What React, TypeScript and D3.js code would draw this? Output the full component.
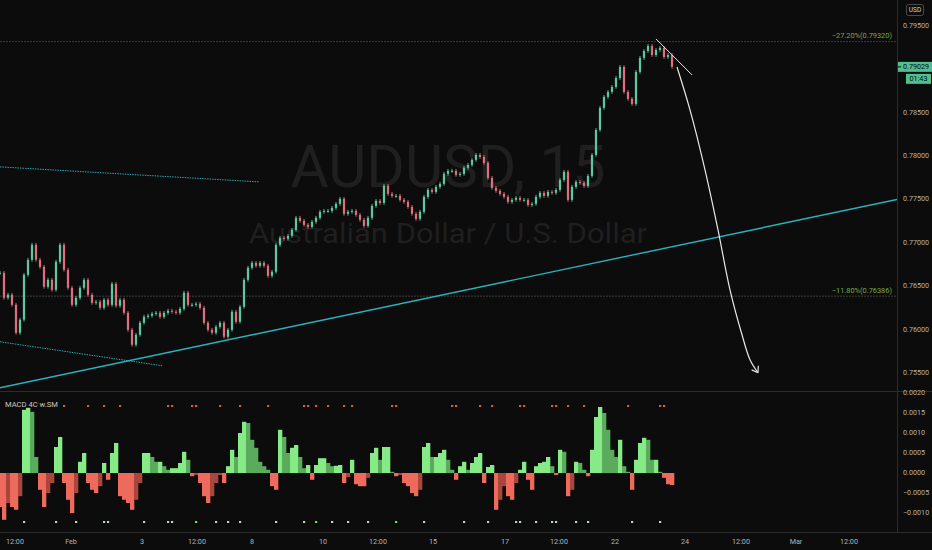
import * as d3 from "d3";
import React from "react";

const closes = [
  0.76655, 0.76367, 0.76402, 0.76286, 0.75964, 0.76114, 0.76632, 0.76805, 0.76978, 0.76805,
  0.76724, 0.76494, 0.76574, 0.76459, 0.76782, 0.76978, 0.7669, 0.76482, 0.76286, 0.76367,
  0.76482, 0.76574, 0.76402, 0.76309, 0.76321, 0.76252, 0.76344, 0.76286, 0.76528, 0.76275,
  0.76344, 0.76194, 0.75998, 0.75826, 0.75941, 0.76079, 0.76148, 0.7616, 0.76183, 0.76194,
  0.76148, 0.76194, 0.76217, 0.76206, 0.76194, 0.7624, 0.76425, 0.76286, 0.76286, 0.76298,
  0.76252, 0.76079, 0.75998, 0.75964, 0.76033, 0.76079, 0.75918, 0.75998, 0.76206, 0.76091,
  0.76263, 0.76574, 0.76713, 0.7677, 0.76736, 0.7677, 0.76736, 0.7662, 0.76667, 0.76978,
  0.77058, 0.77047, 0.77081, 0.7715, 0.77289, 0.77254, 0.77208, 0.77185, 0.77243, 0.77289,
  0.77358, 0.77369, 0.77369, 0.77404, 0.7745, 0.77508, 0.77335, 0.77358, 0.77369, 0.77323,
  0.77266, 0.77196, 0.77289, 0.77427, 0.77484, 0.77461, 0.77657, 0.77565, 0.77542, 0.77542,
  0.77496, 0.77473, 0.77415, 0.77335, 0.77277, 0.77358, 0.77531, 0.77611, 0.77588, 0.77646,
  0.7768, 0.77796, 0.7783, 0.7783, 0.77784, 0.77796, 0.77865, 0.77899, 0.77957, 0.78014,
  0.77991, 0.77922, 0.77749, 0.77634, 0.776, 0.77565, 0.77531, 0.77473, 0.77496, 0.77519,
  0.77496, 0.77496, 0.77438, 0.7745, 0.77531, 0.77577, 0.77542, 0.77588, 0.77577, 0.77611,
  0.77726, 0.77819, 0.77496, 0.77646, 0.77703, 0.77692, 0.77657, 0.77772, 0.78014, 0.78302,
  0.78556, 0.78683, 0.7874, 0.78798, 0.78901, 0.79028, 0.7874, 0.7866, 0.78602, 0.78971,
  0.79132, 0.79212, 0.7927, 0.79166, 0.79224, 0.79247, 0.79143, 0.79166, 0.79029,
];

// MACD 4C histogram, same bars
const macd = [
  -0.00085, -0.00117, -0.00075, -0.00085, -0.00092, -0.00058, 0.00158, 0.00163, 0.00153, 0.0004,
  -0.00042, -0.00085, -0.0005, -0.00025, 0.00065, 0.0009, -0.00025, -0.00067, -0.001, -0.0005,
  0.00028, 0.0005, -0.00025, -0.00042, -0.0005, -0.00033, 0.00025, -0.00017, 0.0005, 0.00075,
  -0.00058, -0.00067, -0.00075, -0.00092, -0.00067, -0.00025, 0.0005, 0.0005, 0.0004, 0.00028,
  0.00028, 0.00017, 0.00008, 0.00012, 0.00012, 0.00025, 0.00053, 0.00033, -0.00008, -0.00005,
  -0.00025, -0.00058, -0.00075, -0.00058, -0.00025, -0.00005, -0.00025, 0.00017, 0.00058, 0.0004,
  0.001, 0.00128, 0.00125, 0.00083, 0.00063, 0.00028, 0.00017, 0.00008, -0.00033, -0.00042,
  0.00108, 0.0009, 0.0005, 0.00063, 0.0007, 0.0004, 0.00012, 0.0002, -0.00017, 0.0002,
  0.00037, 0.00037, 0.00025, 0.00017, 0.00018, 0.0002, -0.00025, -0.0001, 0.00033, -0.00028,
  -0.00033, -0.00033, -0.00012, 0.0005, 0.00063, 0.00033, 0.00065, 0.00065, 0.00003, -0.00008,
  -0.00005, -0.00025, -0.00033, -0.0005, -0.00058, -0.00042, 0.00065, 0.00075, 0.0004, 0.0004,
  0.0005, 0.00058, 0.00033, 0.00008, -0.00017, 0.00017, 0.00028, 0.00008, 0.00025, 0.0004,
  0.0005, -0.00025, 0.00015, 0.0002, -0.00092, -0.00067, -0.00033, -0.00058, -0.00067, -0.00025,
  0.00008, 0.00028, -0.00017, -0.00042, 0.00017, 0.00025, 0.00028, 0.0004, 0.00017, -0.00005,
  0.00058, 0.00053, -0.00058, -0.00042, 0.00028, 0.00025, 0.00008, -0.00008, 0.00058, 0.0014,
  0.00165, 0.0015, 0.00108, 0.00058, 0.0004, 0.00083, 0.00017, 0.00003, -0.00042, 0.00033,
  0.00075, 0.00088, 0.00083, 0.00033, 0.00033, 0.00003, -0.00012, -0.00028, -0.0003,
];

// signal dots of the MACD pane (bar indices)
const sellDots = [16, 22, 26, 30, 42, 43, 48, 49, 55, 60, 67, 76, 77, 79, 82, 86, 88, 98, 99, 113, 114, 120, 123, 130, 131, 138, 139, 142, 146, 157, 165, 166];
const buyDots = [6, 14, 19, 26, 27, 36, 42, 43, 49, 54, 57, 60, 69, 76, 79, 83, 87, 92, 99, 106, 116, 122, 129, 130, 134, 138, 139, 144, 147, 158, 165];
const strongBuy = [49, 79, 99];

const timeTicks = [
  { at: 3.75, label: "12:00" }, { at: 17.75, label: "Feb" }, { at: 35.5, label: "3" },
  { at: 49.25, label: "12:00" }, { at: 63, label: "8" }, { at: 80.75, label: "10" },
  { at: 94.5, label: "12:00" }, { at: 108.25, label: "15" }, { at: 126.25, label: "17" },
  { at: 139.75, label: "12:00" }, { at: 153.75, label: "22" }, { at: 171.25, label: "24" },
  { at: 185.25, label: "12:00" }, { at: 199, label: "Mar" }, { at: 212.25, label: "12:00" },
];
const priceTicks = [0.795, 0.785, 0.78, 0.775, 0.77, 0.765, 0.76, 0.755];
const macdTicks = [0.002, 0.0015, 0.001, 0.0005, 0, -0.0005, -0.001];
const fibLevels = [
  { label: "−27.20%(0.79320)", price: 0.7932 },
  { label: "−11.80%(0.76386)", price: 0.76386 },
];
const lastPrice = 0.79029;

// drawings: [bar index, price]
const trendLine: [number, number][] = [[0, 0.7533], [224.25, 0.775]];
const upperChannel: [number, number][] = [[0, 0.77876], [64.75, 0.77703]];
const lowerChannel: [number, number][] = [[0, 0.7586], [40.5, 0.75584]];
const flagLine: [number, number][] = [[164, 0.79351], [173, 0.78936]];
const arrowPath: [number, number][] = [
  [169.25, 0.79028], [172.5, 0.78533], [176.25, 0.77842], [179.5, 0.7715],
  [182.5, 0.76459], [185.5, 0.75941], [187.5, 0.75653], [189.5, 0.75503],
];

const W = 932;
const H = 550;
const axisX = 897;
const paneBottom = 391;
const macdBottom = 532;
const font = "Roboto, 'Liberation Sans', sans-serif";
const axisFs = 7.2;
const axisCol = "#b4b4b4";

export default function App() {
  const x = d3.scaleLinear().domain([0, 224.25]).range([0, axisX]);
  const y = d3.scaleLinear().domain([0.795, 0.755]).range([26, 373]);
  const ym = d3.scaleLinear().domain([0.0015, -0.001]).range([413, 513]);
  const step = x(1) - x(0);
  const wick = 0.00022;

  const up = "#5fc7a0";
  const down = "#de6f7e";

  const seg = (pts: [number, number][]) =>
    d3.line<[number, number]>().x((d) => x(d[0])).y((d) => y(d[1]))(pts) ?? undefined;
  const curve =
    d3.line<[number, number]>().x((d) => x(d[0])).y((d) => y(d[1])).curve(d3.curveCatmullRom)(arrowPath) ??
    undefined;

  const end = arrowPath[arrowPath.length - 1];
  const prev = arrowPath[arrowPath.length - 2];
  const ex = x(end[0]);
  const ey = y(end[1]);
  const ang = Math.atan2(ey - y(prev[1]), ex - x(prev[0]));
  const head = (da: number) => `M${ex},${ey}L${ex - 7 * Math.cos(ang + da)},${ey - 7 * Math.sin(ang + da)}`;

  return (
    <div style={{ position: "fixed", left: 0, top: 0, width: W, height: H, background: "#0c0c0c" }}>
      <svg width={W} height={H} style={{ display: "block", fontFamily: font }}>
        <rect width={W} height={H} fill="#0c0c0c" />
        <defs>
          <clipPath id="main">
            <rect x={0} y={0} width={axisX} height={paneBottom} />
          </clipPath>
          <clipPath id="macd">
            <rect x={0} y={paneBottom + 1} width={axisX} height={macdBottom - paneBottom - 1} />
          </clipPath>
        </defs>

        {/* watermark */}
        <text x={x(112)} y={187} textAnchor="middle" fontSize={60} fill="#1f1f1f" textLength={315} lengthAdjust="spacingAndGlyphs">
          AUDUSD, 15
        </text>
        <text x={x(112)} y={243} textAnchor="middle" fontSize={28} fill="#1f1f1f" textLength={398} lengthAdjust="spacingAndGlyphs">
          Australian Dollar / U.S. Dollar
        </text>

        <g clipPath="url(#main)">
          {/* fib levels */}
          {fibLevels.map((f) => (
            <g key={f.label}>
              <line x1={0} x2={axisX} y1={y(f.price)} y2={y(f.price)} stroke="#3d3d3d" strokeDasharray="2 1" />
              <text x={axisX - 5} y={y(f.price) - 3.5} textAnchor="end" fontSize={7.4} fill="#79a84a">
                {f.label}
              </text>
            </g>
          ))}

          {/* channel lines */}
          <path d={seg(upperChannel)} stroke="#2aa8b0" strokeWidth={1} strokeDasharray="1.5 1" fill="none" />
          <path d={seg(lowerChannel)} stroke="#2aa8b0" strokeWidth={1} strokeDasharray="1.5 1" fill="none" />
          <path d={seg(trendLine)} stroke="#2ab3bd" strokeWidth={1.4} fill="none" />

          {/* candles */}
          {closes.map((c, i) => {
            const o = i > 0 ? closes[i - 1] : c;
            const hi = Math.max(o, c) + wick;
            const lo = Math.min(o, c) - wick;
            const col = c >= o ? up : down;
            const top = y(Math.max(o, c));
            const h = Math.max(1, y(Math.min(o, c)) - top);
            return (
              <g key={i}>
                <line x1={x(i)} x2={x(i)} y1={y(hi)} y2={y(lo)} stroke={col} strokeWidth={0.9} />
                <rect x={x(i) - step * 0.28} y={top} width={step * 0.56} height={h} fill={col} />
              </g>
            );
          })}

          {/* hand drawn lines */}
          <path d={seg(flagLine)} stroke="#e8e8e8" strokeWidth={1} fill="none" />
          <path d={curve} stroke="#e8e8e8" strokeWidth={1.2} fill="none" />
          <path d={head(0.6) + head(-0.6)} stroke="#e8e8e8" strokeWidth={1.2} fill="none" />
        </g>

        {/* pane separators */}
        <line x1={0} x2={W} y1={paneBottom + 0.5} y2={paneBottom + 0.5} stroke="#2c2c2c" />
        <line x1={axisX + 0.5} x2={axisX + 0.5} y1={0} y2={macdBottom} stroke="#2c2c2c" />
        <line x1={0} x2={W} y1={macdBottom + 0.5} y2={macdBottom + 0.5} stroke="#2c2c2c" />

        {/* price axis */}
        {priceTicks.map((p) => (
          <text key={p} x={903} y={y(p)} dominantBaseline="middle" fontSize={axisFs} fill={axisCol}>
            {p.toFixed(5)}
          </text>
        ))}
        <rect x={906.5} y={4.5} width={17} height={11} rx={2} fill="#0c0c0c" stroke="#4a4a4a" />
        <text x={915} y={10.3} textAnchor="middle" dominantBaseline="middle" fontSize={6.5} fill="#d0d0d0">
          USD
        </text>
        <rect x={axisX + 1} y={y(lastPrice) - 5} width={W - axisX - 1} height={10} fill="#4fbf8f" />
        <line x1={axisX + 1} x2={axisX + 4} y1={y(lastPrice)} y2={y(lastPrice)} stroke="#0c0c0c" />
        <text x={903} y={y(lastPrice) + 0.5} dominantBaseline="middle" fontSize={axisFs} fill="#0c0c0c">
          {lastPrice.toFixed(5)}
        </text>
        <rect x={906} y={y(lastPrice) + 7} width={W - 907} height={10} fill="#4fbf8f" />
        <text x={918.5} y={y(lastPrice) + 12.3} textAnchor="middle" dominantBaseline="middle" fontSize={axisFs} fill="#0c0c0c">
          01:43
        </text>

        {/* MACD pane */}
        <g clipPath="url(#macd)">
          {macd.map((v, i) => {
            const pv = i > 0 ? macd[i - 1] : v;
            let col: string;
            if (v >= 0) col = v >= pv ? "#86ea86" : "#5aab5c";
            else col = v <= pv ? "#ee6a5c" : "#a9473e";
            const y0 = ym(0);
            const y1 = ym(v);
            return (
              <rect
                key={i}
                x={x(i) - step / 2}
                y={Math.min(y0, y1)}
                width={step + 0.3}
                height={Math.abs(y1 - y0)}
                fill={col}
              />
            );
          })}
          {sellDots.map((d, i) => (
            <rect key={"s" + i} x={x(d) - 1} y={405} width={2.2} height={2} fill="#e2573f" />
          ))}
          {buyDots.map((d, i) => (
            <rect
              key={"b" + i}
              x={x(d) - 1}
              y={521}
              width={2.2}
              height={2}
              fill={strongBuy.includes(d) ? "#6be36b" : "#bcd8bc"}
            />
          ))}
        </g>
        <text x={5} y={407} fontSize={7.6} fill="#c8c8c8">
          MACD 4C w.SM
        </text>
        {macdTicks.map((t) => (
          <text key={t} x={903} y={ym(t)} dominantBaseline="middle" fontSize={axisFs} fill={axisCol}>
            {t < 0 ? "−" + Math.abs(t).toFixed(4) : t.toFixed(4)}
          </text>
        ))}

        {/* time axis */}
        {timeTicks.map((t, i) => (
          <text key={i} x={x(t.at)} y={542} dominantBaseline="middle" textAnchor="middle" fontSize={axisFs} fill={axisCol}>
            {t.label}
          </text>
        ))}
      </svg>
    </div>
  );
}
